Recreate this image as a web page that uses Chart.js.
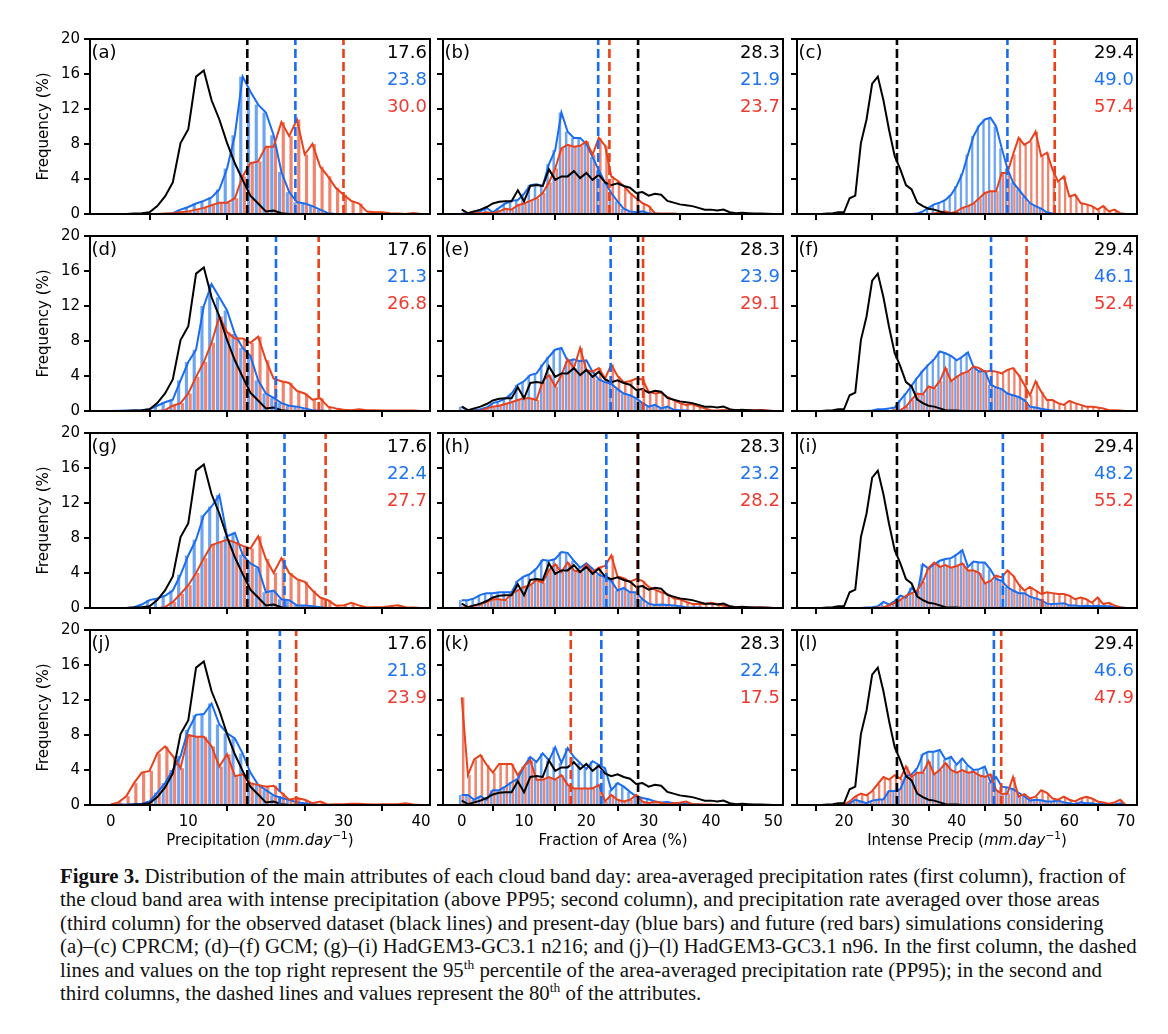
<!DOCTYPE html>
<html><head><meta charset="utf-8">
<script src="https://cdn.jsdelivr.net/npm/chart.js@4.4.1/dist/chart.umd.min.js"></script>
<style>
body{margin:0;background:#fff;}
#fig{position:relative;width:1168px;height:1034px;overflow:hidden;background:#fff;}
canvas{position:absolute;}
.plab{position:absolute;font-family:"DejaVu Sans";font-size:18px;line-height:27px;white-space:nowrap;color:#000;}
.vals{position:absolute;font-family:"DejaVu Sans";font-size:18px;line-height:27px;white-space:nowrap;text-align:right;}
.xt{position:absolute;font-family:"DejaVu Sans";font-size:15px;line-height:18px;text-align:center;white-space:nowrap;color:#000;}
.xt sup{font-size:10.5px;line-height:0;vertical-align:6px;}
#cap{position:absolute;left:60px;top:864px;font-family:"Liberation Serif";font-size:20.8px;line-height:23.4px;color:#111;white-space:nowrap;}
#cap sup{font-size:13.5px;line-height:0;vertical-align:8px;}
</style></head>
<body><div id="fig"></div>
<script>
// ---------- categories / ticks ----------
const precipBins=[0,1,2,3,4,5,6,7,8,9,10,11,12,13,14,15,16,17,18,19,20,21,22,23,24,25,26,27,28,29,30,31,32,33,34,35,36,37,38,39,40];
const areaBins=[0,1,2,3,4,5,6,7,8,9,10,11,12,13,14,15,16,17,18,19,20,21,22,23,24,25,26,27,28,29,30,31,32,33,34,35,36,37,38,39,40,41,42,43,44,45,46,47,48,49,50];
const intenseBins=[15,16,17,18,19,20,21,22,23,24,25,26,27,28,29,30,31,32,33,34,35,36,37,38,39,40,41,42,43,44,45,46,47,48,49,50,51,52,53,54,55,56,57,58,59,60,61,62,63,64,65,66,67,68,69,70];
const precipTicks=[0,10,20,30,40];
const areaTicks=[0,10,20,30,40,50];
const intenseTicks=[20,30,40,50,60,70];
const freqTicks=[0,4,8,12,16,20];

// ---------- observed (black) ----------
const obsPrecip=[0,0,0,0.05,0.1,0.2,0.9,2.0,3.6,8.1,9.7,15.7,16.4,13.0,10.8,8.1,5.8,3.9,2.1,1.2,0.3,0.4,0.1,0,0,0,0,0,0,0,0,0,0,0,0,0,0,0,0,0,0];
const obsArea=[0.5,0.1,0.3,0.5,0.8,1.2,1.4,1.45,1.45,2.7,1.45,3.2,3.3,3.2,5.1,3.9,4.3,4.3,4.9,4.1,4.7,3.9,4.5,3.6,3.3,3.5,3.2,3.0,2.4,2.5,2.1,2.3,2.2,1.5,1.3,1.1,1.0,0.9,0.7,0.5,0.5,0.4,0.5,0.2,0.1,0.15,0.1,0.05,0.05,0.02,0];
const obsIntense=[0,0,0.05,0.1,0.2,0.2,1.8,2.1,8.1,10.8,14.9,15.7,13.0,9.6,6.6,5.1,3.3,2.8,1.3,0.9,0.6,0.5,0.3,0.1,0.05,0.05,0,0,0,0,0,0,0,0,0,0,0,0,0,0,0,0,0,0,0,0,0,0,0,0,0,0,0,0,0,0];

// ---------- present-day (blue) ----------
const presA=[0,0,0,0,0,0,0,0,0.1,0.5,0.8,1.2,1.5,1.9,2.8,5.2,9.0,15.7,14.0,12.5,11.6,9.0,4.8,2.5,1.35,1.2,0.9,0.5,0.1,0,0,0,0,0,0,0,0,0,0,0,0];
const presB=[0.05,0.02,0.2,0.3,0.7,0.2,0.7,1.2,1.5,1.6,2.3,3.3,3.4,3.2,5.7,7.3,11.6,9.4,8.7,8.7,8.0,6.5,5.0,3.6,2.4,1.45,0.6,0.3,0.2,0.3,0.1,0.05,0,0,0,0,0,0,0,0,0,0,0,0,0,0,0,0,0,0,0];
const presC=[0,0,0,0,0,0,0,0,0,0,0,0,0,0,0,0,0,0,0.05,0.3,0.7,1.1,1.3,1.6,2.2,3.2,4.6,6.8,8.9,10.1,10.8,11.0,10.0,7.5,5.2,3.6,2.8,2.0,1.25,0.9,0.6,0.2,0.05,0,0,0,0,0,0,0,0,0,0,0,0,0];
const presD=[0,0.02,0.05,0.05,0.1,0.2,0.6,1.0,1.3,3.5,5.6,7.0,12.0,14.5,13.0,11.5,8.8,7.2,6.3,3.5,2.0,1.5,0.9,0.6,0.5,0.3,0.1,0.05,0,0,0,0,0,0,0,0,0,0,0,0,0];
const presE=[0.5,0.1,0.1,0.2,0.4,0.9,1.1,1.4,2.0,3.0,3.4,4.1,4.3,5.3,6.2,7.0,7.2,5.7,5.9,5.7,5.8,4.5,3.6,3.3,3.1,2.5,2.0,1.8,1.45,0.9,0.5,0.7,0.3,0.5,0.15,0.1,0.05,0,0,0,0,0,0,0,0,0,0,0,0,0,0];
const presF=[0,0,0,0,0,0,0,0,0,0,0.05,0.2,0.2,0.3,0.4,1.25,2.0,2.9,3.8,4.6,5.3,5.9,6.8,6.6,6.3,5.8,6.2,6.7,5.0,4.5,4.6,3.0,2.7,2.5,2.0,1.8,1.6,1.25,0.5,0.4,0.25,0.15,0.05,0,0,0,0,0,0,0,0,0,0,0,0,0];
const presG=[0,0,0,0.1,0.4,0.9,1.1,1.4,2.0,3.8,6.0,7.8,10.6,11.6,12.9,8.2,8.6,6.1,5.1,4.6,1.8,2.0,1.0,0.9,0.3,0.3,0.2,0.1,0,0,0,0,0,0,0,0,0,0,0,0,0];
const presH=[0.9,0.9,1.1,1.5,1.7,1.7,1.8,1.8,1.8,3.1,3.6,3.9,4.5,5.5,5.4,5.6,6.4,6.3,5.4,4.6,5.1,4.5,3.8,3.5,3.1,2.0,2.3,1.8,1.8,1.0,0.5,0.35,0.4,0.35,0.3,0.2,0.1,0.05,0.05,0,0,0,0,0,0,0,0,0,0,0,0];
const presI=[0,0,0,0,0,0,0,0,0,0.05,0.1,0.2,0.7,0.4,0.8,1.4,1.2,2.3,1.6,5.0,4.5,5.0,5.4,5.6,5.7,6.1,6.6,4.7,5.3,5.2,5.2,4.4,3.3,3.1,2.4,2.0,1.7,1.7,1.3,1.1,0.9,0.5,0.45,0.5,0.55,0.3,0.3,0.2,0.25,0.2,0.25,0.2,0.2,0.1,0.05,0];
const presJ=[0,0.05,0.05,0.1,0.15,0.4,1.4,2.5,4.0,5.6,8.6,10.3,10.4,11.6,9.2,8.2,7.6,5.9,3.7,2.3,1.7,1.1,0.8,0.6,0.3,0.2,0.1,0,0,0,0,0,0,0,0,0,0,0,0,0,0];
const presK=[1.15,1.15,0.6,1.0,0.6,1.7,1.7,2.1,2.6,3.0,4.4,5.5,4.9,5.9,5.1,6.6,4.8,6.5,5.5,4.8,4.1,5.0,4.6,4.2,1.7,2.5,2.1,1.5,1.0,0.8,0.65,0.4,0.3,0.35,0.2,0.15,0.15,0.1,0.05,0,0,0,0,0,0,0,0,0,0,0,0];
const presL=[0,0,0,0,0.02,0.05,0.2,0.6,0.4,0.2,0.5,0.6,0.65,1.6,1.6,1.8,3.3,3.5,4.2,5.8,6.1,6.1,6.3,5.2,5.5,4.6,5.3,4.5,4.0,4.1,4.4,2.6,3.2,2.1,2.0,1.8,1.4,1.0,0.5,0.6,0.55,0.4,0.4,0.5,0.3,0.2,0.1,0.3,0.2,0.2,0.1,0.2,0.1,0.05,0.2,0];

// ---------- future (red) ----------
const futA=[0,0,0,0,0,0,0,0.05,0.1,0.2,0.3,0.5,0.7,1.0,1.3,1.3,1.8,4.3,5.8,6.0,7.7,7.7,10.5,8.9,10.8,6.8,8.0,5.4,4.3,3.0,2.2,1.5,1.2,0.3,0.2,0.2,0.1,0.05,0,0.1,0];
const futB=[0,0.05,0.3,0.05,0.2,0.1,0.3,0.6,0.5,1.0,1.2,1.5,1.8,2.4,3.6,5.2,7.5,7.9,7.7,7.8,8.3,6.8,8.7,7.8,4.3,3.8,3.2,2.4,1.8,1.25,0.9,0.1,0.05,0.05,0.05,0,0,0,0,0,0,0,0,0,0,0,0,0,0,0,0];
const futC=[0,0,0,0,0,0,0,0,0,0,0,0,0,0,0,0,0,0,0,0,0,0.05,0.2,0.3,0.1,0.3,0.7,0.9,1.2,1.8,2.4,2.6,2.6,4.7,4.7,6.8,8.7,7.9,8.3,9.4,6.6,7.0,5.1,3.7,4.3,2.0,2.2,1.25,1.1,0.9,0.5,0.9,0.3,0.5,0.1,0];
const futD=[0,0,0,0,0,0,0,0.1,0.6,0.9,2.0,3.9,5.6,7.8,10.8,9.0,8.3,8.3,7.8,8.5,5.8,3.7,3.4,3.2,2.3,2.0,1.3,1.45,0.5,0.3,0.15,0.1,0.2,0.1,0.1,0.05,0.05,0.05,0.05,0.05,0];
const futE=[0.02,0.02,0.02,0.02,0.3,0.5,0.6,0.8,1.0,1.25,1.45,1.45,1.25,3.4,4.1,2.8,4.1,5.9,4.9,7.2,4.7,4.5,4.9,3.7,5.3,4.0,3.3,3.4,3.7,3.6,2.2,2.0,2.1,1.6,1.25,0.9,0.7,0.8,0.5,0.3,0.1,0.05,0.1,0.05,0.1,0.05,0.1,0.05,0.1,0.05,0];
const futF=[0,0,0,0,0,0,0,0,0,0,0,0,0,0,0.05,0.1,0.5,1.3,2.0,1.9,2.8,2.6,3.4,4.9,3.4,3.9,4.3,4.5,5.1,4.9,4.5,4.6,4.5,4.3,4.7,4.9,4.1,3.0,1.8,3.4,2.2,1.25,1.25,0.9,0.7,1.15,0.9,0.7,0.5,0.5,0.4,0.3,0.1,0.1,0.05,0];
const futG=[0,0,0,0,0,0,0,0.1,0.7,1.6,2.6,4.0,5.7,7.2,7.5,7.8,7.5,7.1,6.8,8.2,5.6,4.0,5.7,4.0,3.3,3.0,2.0,1.2,0.9,0.3,0.3,0.6,0.3,0.05,0.1,0.1,0.2,0.3,0.1,0.05,0];
const futH=[0.05,0.1,0.3,0.4,0.7,1.0,1.0,0.9,1.6,2.0,2.4,2.6,3.2,2.9,4.3,5.0,4.1,5.2,4.3,4.1,5.0,4.1,4.6,4.8,6.0,3.6,3.4,3.0,3.3,3.1,2.4,2.1,1.8,1.6,1.1,1.0,0.7,0.45,0.45,0.45,0.6,0.45,0.25,0.2,0.1,0.1,0.05,0.05,0.05,0.05,0];
const futI=[0,0,0,0,0,0,0,0,0,0,0,0.05,0.1,0.3,0.6,0.9,1.4,1.7,2.0,3.0,4.6,5.2,4.7,4.9,4.6,4.8,5.1,4.3,4.3,4.0,2.8,3.1,3.7,3.5,4.3,3.7,2.7,2.0,2.4,2.0,1.6,1.8,1.7,1.6,1.6,1.4,1.0,1.2,1.0,0.6,1.2,0.45,0.6,0.3,0.1,0];
const futJ=[0.05,0.3,1.0,2.5,3.7,3.9,5.9,6.7,5.6,4.2,8.0,7.8,7.8,6.7,4.4,5.8,3.3,3.5,2.5,2.3,2.1,2.2,1.4,0.6,0.8,0.6,0.2,0.4,0.05,0.1,0.1,0.15,0.15,0.1,0.05,0.1,0.1,0.1,0.2,0.05,0];
const futK=[12.3,3.4,5.2,5.7,4.6,3.7,4.7,4.7,4.7,3.4,4.4,5.1,2.9,2.9,3.2,2.9,3.4,2.3,1.9,1.9,1.9,1.9,2.3,0.4,1.15,0.6,0.4,0.6,1.15,0.4,0.2,0.4,0.25,0.1,0.2,0.25,0.4,0.1,0.1,0.05,0.05,0,0,0,0,0,0,0,0,0,0];
const futL=[0,0,0,0,0,0.05,0.4,0.95,1.3,1.1,1.6,2.4,3.2,2.9,3.4,3.0,4.4,3.2,3.7,3.7,5.0,3.5,4.0,4.8,4.0,3.7,4.0,3.7,3.8,3.4,3.2,3.5,1.7,1.3,1.3,3.2,0.95,1.25,0.75,0.95,1.7,1.4,0.75,0.6,0.95,0.6,0.4,0.75,0.95,0.75,0.4,0.3,0.15,0.3,0.6,0];

// ---------- dashed-line values (panel order a..l) ----------
const panelLabels=['(a)','(b)','(c)','(d)','(e)','(f)','(g)','(h)','(i)','(j)','(k)','(l)'];
const thrObs=[17.6,28.3,29.4,17.6,28.3,29.4,17.6,28.3,29.4,17.6,28.3,29.4];
const thrPres=[23.8,21.9,49.0,21.3,23.9,46.1,22.4,23.2,48.2,21.8,22.4,46.6];
const thrFut=[30.0,23.7,57.4,26.8,29.1,52.4,27.7,28.2,55.2,23.9,17.5,47.9];

// ---------- styling / layout ----------
const C_BLUE_BAR='#6ea5f2', C_RED_BAR='#f0846e';
const C_BLUE_LINE='#1a6cf0', C_RED_LINE='#e8411c';
const C_BLUE_TXT='#1f74f2', C_RED_TXT='#f03a30';
const COL_LEFT=[90,443,797], ROW_TOP=[39,236,433,630], PW=340, PH=175;
const XRANGE=[[-2.67,41.15],[-3.0,51.55],[11.66,72.0]];
const colBins=[precipBins,areaBins,intenseBins];
const colObs=[obsPrecip,obsArea,obsIntense];
const colTicks=[precipTicks,areaTicks,intenseTicks];
const presAll=[presA,presB,presC,presD,presE,presF,presG,presH,presI,presJ,presK,presL];
const futAll=[futA,futB,futC,futD,futE,futF,futG,futH,futI,futJ,futK,futL];

const fig=document.getElementById('fig');
const spines={id:'spines',afterDraw(ch){const {ctx,chartArea:a}=ch;ctx.save();ctx.strokeStyle='#000';ctx.lineWidth=2;ctx.strokeRect(a.left,a.top,a.right-a.left,a.bottom-a.top);ctx.restore();}};
const pts=(xs,ys)=>xs.map((x,i)=>({x:x,y:ys[i]}));
const vline=(v,color,order)=>({type:'line',data:[{x:v,y:0},{x:v,y:20}],borderColor:color,borderWidth:2.6,borderDash:[9,4],pointRadius:0,order:order,clip:false});

for(let r=0;r<4;r++){for(let c=0;c<3;c++){
  const idx=r*3+c;
  const L=c===0?70:10, T=14, R=4, B=r===3?34:14;
  const cv=document.createElement('canvas');
  const w=PW+L+R, h=PH+T+B;
  cv.width=w;cv.height=h;cv.style.width=w+'px';cv.style.height=h+'px';
  cv.style.left=(COL_LEFT[c]-L)+'px';cv.style.top=(ROW_TOP[r]-T)+'px';
  fig.appendChild(cv);
  const bins=colBins[c];
  const tickFont={family:'DejaVu Sans',size:15};
  new Chart(cv,{
    type:'bar',
    data:{datasets:[
      vline(thrObs[idx],'#000',0),
      vline(thrFut[idx],C_RED_LINE,1),
      vline(thrPres[idx],C_BLUE_LINE,2),
      {type:'line',data:pts(bins,colObs[c]),borderColor:'#000',borderWidth:2,pointRadius:0,tension:0,order:3},
      {type:'line',data:pts(bins,futAll[idx]),borderColor:C_RED_LINE,borderWidth:2,pointRadius:0,tension:0,order:4},
      {type:'line',data:pts(bins,presAll[idx]),borderColor:C_BLUE_LINE,borderWidth:2,pointRadius:0,tension:0,order:5},
      {type:'bar',data:pts(bins,presAll[idx]),backgroundColor:C_BLUE_BAR,borderWidth:0,categoryPercentage:0.96,barPercentage:0.85,order:10},
      {type:'bar',data:pts(bins,futAll[idx]),backgroundColor:C_RED_BAR,borderWidth:0,categoryPercentage:0.96,barPercentage:0.85,order:11}
    ]},
    options:{
      responsive:false,animation:false,devicePixelRatio:1,events:[],
      layout:{padding:{left:0,top:T,right:R,bottom:0}},
      plugins:{legend:{display:false},tooltip:{enabled:false}},
      scales:{
        x:{type:'linear',min:XRANGE[c][0],max:XRANGE[c][1],offset:false,
           afterBuildTicks:s=>{s.ticks=colTicks[c].map(v=>({value:v}));},
           afterFit:s=>{s.height=B;},
           ticks:{display:r===3,font:tickFont,color:'#000',padding:2,maxRotation:0,autoSkip:false},
           grid:{drawOnChartArea:false,drawTicks:true,tickLength:6,color:'#000',lineWidth:2},
           border:{display:false}},
        y:{min:0,max:20,
           afterBuildTicks:s=>{s.ticks=freqTicks.map(v=>({value:v}));},
           afterFit:s=>{s.width=L;},
           ticks:{display:c===0,font:tickFont,color:'#000',padding:4},
           grid:{drawOnChartArea:false,drawTicks:true,tickLength:6,color:'#000',lineWidth:2},
           border:{display:false},
           title:{display:c===0,text:'Frequency (%)',font:{family:'DejaVu Sans',size:15},color:'#000',padding:{top:15,bottom:0}}}
      }
    },
    plugins:[spines]
  });
  const lab=document.createElement('div');lab.className='plab';lab.textContent=panelLabels[idx];
  lab.style.left=(COL_LEFT[c]+1.5)+'px';lab.style.top=(ROW_TOP[r]-1.5)+'px';fig.appendChild(lab);
  const vals=document.createElement('div');vals.className='vals';
  vals.style.right=(1168-(COL_LEFT[c]+PW-3))+'px';vals.style.top=(ROW_TOP[r]-1.5)+'px';
  vals.innerHTML='<div style="color:#000">'+thrObs[idx].toFixed(1)+'</div><div style="color:'+C_BLUE_TXT+'">'+thrPres[idx].toFixed(1)+'</div><div style="color:'+C_RED_TXT+'">'+thrFut[idx].toFixed(1)+'</div>';
  fig.appendChild(vals);
}}
const xTitles=['Precipitation (<i>mm.day</i><sup>−1</sup>)','Fraction of Area (%)','Intense Precip (<i>mm.day</i><sup>−1</sup>)'];
for(let c=0;c<3;c++){const d=document.createElement('div');d.className='xt';d.innerHTML=xTitles[c];d.style.left=COL_LEFT[c]+'px';d.style.width=PW+'px';d.style.top='831px';fig.appendChild(d);}
const cap=document.createElement('div');cap.id='cap';
cap.innerHTML='<b>Figure 3.</b> Distribution of the main attributes of each cloud band day: area-averaged precipitation rates (first column), fraction of<br>'+
'the cloud band area with intense precipitation (above PP95; second column), and precipitation rate averaged over those areas<br>'+
'(third column) for the observed dataset (black lines) and present-day (blue bars) and future (red bars) simulations considering<br>'+
'(a)–(c) CPRCM; (d)–(f) GCM; (g)–(i) HadGEM3-GC3.1 n216; and (j)–(l) HadGEM3-GC3.1 n96. In the first column, the dashed<br>'+
'lines and values on the top right represent the 95<sup>th</sup> percentile of the area-averaged precipitation rate (PP95); in the second and<br>'+
'third columns, the dashed lines and values represent the 80<sup>th</sup> of the attributes.';
fig.appendChild(cap);
</script></body></html>
